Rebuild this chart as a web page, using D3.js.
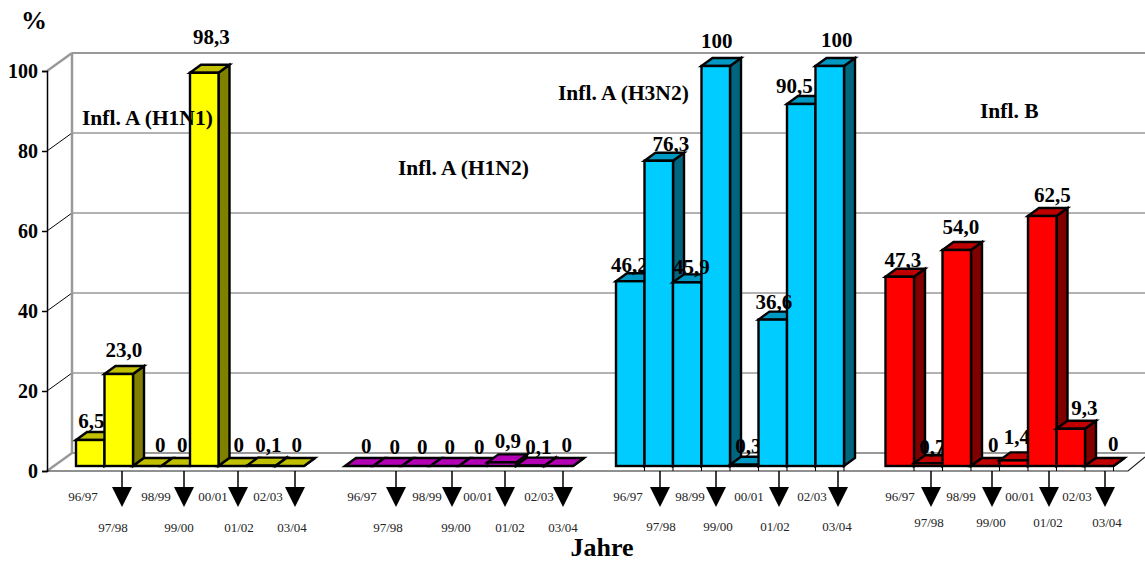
<!DOCTYPE html>
<html>
<head>
<meta charset="utf-8">
<script src="https://cdn.jsdelivr.net/npm/d3@7"></script>
<style>
    html, body { margin: 0; padding: 0; background: #fff; overflow: hidden; }
    text { font-family: "Liberation Serif", serif; }
</style>
</head>
<body>
<div class="vis"></div>
<script>
const seasons = ['96/97', '97/98', '98/99', '99/00', '00/01', '01/02', '02/03', '03/04'];
const yTicks = [0, 20, 40, 60, 80, 100];

// values as printed above the bars
const h1n1 = [6.5, 23.0, 0, 0, 98.3, 0, 0.1, 0];
const h1n2 = [0, 0, 0, 0, 0, 0.9, 0.1, 0];
const h3n2 = [46.2, 76.3, 45.9, 100, 0.3, 36.6, 90.5, 100];
const inflB = [47.3, 0.7, 54.0, 0, 1.4, 62.5, 9.3, 0];

const h1n1Labels = ['6,5', '23,0', '0', '0', '98,3', '0', '0,1', '0'];
const h1n2Labels = ['0', '0', '0', '0', '0', '0,9', '0,1', '0'];
const h3n2Labels = ['46,2', '76,3', '45,9', '100', '0,3', '36,6', '90,5', '100'];
const inflBLabels = ['47,3', '0,7', '54,0', '0', '1,4', '62,5', '9,3', '0'];

const width = 1145, height = 562;
const depth = { x: 11, y: 8 };

let svg = d3.select('.vis')
    .append('svg')
    .attr('width', width)
    .attr('height', height)
    .style('display', 'block');

// front of the axis, back wall and bars each sit at a different depth
const yFront = d3.scaleLinear().domain([0, 100]).range([471, 71]);
const yBack = d3.scaleLinear().domain([0, 100]).range([453, 53]);
const yBar = d3.scaleLinear().domain([0, 100]).range([466, 66]);

// back wall
svg.append('g')
    .selectAll('line')
    .data(yTicks)
    .join('line')
    .attr('x1', 72)
    .attr('x2', width)
    .attr('y1', d => yBack(d))
    .attr('y2', d => yBack(d))
    .attr('stroke', d => (d === 0 || d === 100) ? '#999' : '#666')
    .attr('stroke-width', d => (d === 0 || d === 100) ? 2 : 1);

svg.append('g')
    .selectAll('line')
    .data(yTicks)
    .join('line')
    .attr('x1', 47)
    .attr('x2', 72)
    .attr('y1', d => yFront(d))
    .attr('y2', d => yBack(d))
    .attr('stroke', d => (d === 0 || d === 100) ? '#999' : '#000')
    .attr('stroke-width', d => (d === 0 || d === 100) ? 2.5 : 1);

svg.append('line')
    .attr('x1', 72).attr('x2', 72)
    .attr('y1', yBack(100)).attr('y2', yBack(0))
    .attr('stroke', '#999')
    .attr('stroke-width', 2.5);

// floor front edge
svg.append('path')
    .attr('d', d3.line()([[47, yFront(0)], [1128, yFront(0)], [width, 457]]))
    .attr('fill', 'none')
    .attr('stroke', '#222')
    .attr('stroke-width', 1.2);

let yAxis = svg.append('g')
    .attr('transform', 'translate(47,0)')
    .call(d3.axisLeft(yFront).tickValues(yTicks).tickSize(5).tickPadding(4));
yAxis.select('.domain').attr('stroke', '#000').attr('stroke-width', 1.5);
yAxis.selectAll('line').attr('stroke', '#000').attr('stroke-width', 1.5);
yAxis.selectAll('text')
    .style('font-family', '"Liberation Serif", serif')
    .style('font-size', '20px')
    .style('font-weight', 'bold')
    .attr('fill', '#000');

svg.append('text').attr('x', 34).attr('y', 29)
    .attr('text-anchor', 'middle')
    .style('font-size', '26px').style('font-weight', 'bold')
    .text('%');

svg.append('text').attr('x', 602).attr('y', 556)
    .attr('text-anchor', 'middle')
    .style('font-size', '26px').style('font-weight', 'bold')
    .text('Jahre');

const groups = [
    {
        values: h1n1, labels: h1n1Labels, start: 76,
        front: '#ffff00', top: '#c0c000', side: '#808000',
        nudge: [[-3, 2], [1, -3], [9, 0], [2.5, 0], [3, -15], [2, 0], [3, 0], [3, 0]],
        arrows: [122, 184, 238, 295],
        upper: [83, 156, 213, 268], lower: [113, 179, 239, 292], lowerY: 528,
        ticks: false
    },
    {
        values: h1n2, labels: h1n2Labels, start: 345,
        front: '#c000c0', top: '#b400b4', side: '#800080',
        nudge: [[3, 1], [3, 2], [2, 2], [1, 2], [2, 2], [2, 0], [4, 2], [4, 0]],
        arrows: [396, 452, 505, 563],
        upper: [362, 427, 478, 539], lower: [388, 456, 510, 563], lowerY: 528,
        ticks: false
    },
    {
        values: h3n2, labels: h3n2Labels, start: 616,
        front: '#00ccff', top: '#0099c4', side: '#006680',
        nudge: [[-5, 5], [8, 4], [0, 6], [-3, -4], [0, 2], [-3, 3], [-11, 3], [3, -5]],
        arrows: [660, 716, 779, 838],
        upper: [628, 690, 749, 812], lower: [661, 718, 775, 837], lowerY: 527,
        ticks: true
    },
    {
        values: inflB, labels: inflBLabels, start: 885.5,
        front: '#ff0000', top: '#c00000', side: '#800000',
        nudge: [[-1, 4], [0, 5], [0, -2], [4, 0], [-1, -2], [6, 0], [9.5, 0], [10, -1]],
        arrows: [931, 992, 1049, 1105],
        upper: [900, 961, 1020, 1077], lower: [929, 991, 1048, 1107], lowerY: 523,
        ticks: true
    }
];

const barWidth = 28.5;

groups.forEach(function (g) {
    const x = d3.scaleBand()
        .domain(seasons)
        .range([g.start, g.start + barWidth * seasons.length]);

    const rows = seasons.map((s, i) => ({ season: s, value: g.values[i], label: g.labels[i], nudge: g.nudge[i] }));

    // ticks on the floor edge below the bars
    if (g.ticks) {
        svg.append('g')
            .selectAll('line')
            .data(seasons.slice(1).concat(['end']))
            .join('line')
            .attr('x1', d => d === 'end' ? x.range()[1] : x(d))
            .attr('x2', d => d === 'end' ? x.range()[1] : x(d))
            .attr('y1', yBar(0))
            .attr('y2', yFront(0))
            .attr('stroke', '#000');
    }

    // one group per bar, so a later bar covers the label of the one before
    let barLayer = svg.append('g');
    let bars = barLayer
        .selectAll('g')
        .data(rows)
        .join('g')
        .attr('stroke', '#000')
        .attr('stroke-width', 2.4)
        .attr('stroke-linejoin', 'miter');

    bars.append('path')
        .attr('fill', g.side)
        .attr('d', function (d) {
            const r = x(d.season) + barWidth, t = yBar(d.value), b = yBar(0);
            return d3.line()([[r, t], [r + depth.x, t - depth.y], [r + depth.x, b - depth.y], [r, b]]) + 'Z';
        });

    bars.append('path')
        .attr('fill', g.top)
        .attr('d', function (d) {
            const l = x(d.season), r = l + barWidth, t = yBar(d.value);
            return d3.line()([[l, t], [l + depth.x, t - depth.y], [r + depth.x, t - depth.y], [r, t]]) + 'Z';
        });

    bars.append('rect')
        .attr('fill', g.front)
        .attr('x', d => x(d.season))
        .attr('y', d => yBar(d.value))
        .attr('width', barWidth)
        .attr('height', d => yBar(0) - yBar(d.value));

    bars.append('text')
        .attr('x', d => x(d.season) + barWidth / 2 + 4 + d.nudge[0])
        .attr('y', d => yBar(d.value) - 14 + d.nudge[1])
        .attr('text-anchor', 'middle')
        .attr('stroke', 'none')
        .attr('fill', '#000')
        .style('font-size', '21px')
        .style('font-weight', 'bold')
        .text(d => d.label);

    // these two labels stay in front of the neighbouring bar
    bars.filter(d => d.label === '45,9' || d.label === '36,6').select('text').each(function () {
        barLayer.node().appendChild(this);
    });

    // every second season hangs under an arrow
    let arrows = svg.append('g')
        .selectAll('g')
        .data(g.arrows)
        .join('g')
        .attr('transform', d => 'translate(' + d + ',0)');

    arrows.append('line')
        .attr('y1', yFront(0)).attr('y2', 490)
        .attr('stroke', '#000').attr('stroke-width', 1.5);

    arrows.append('path')
        .attr('d', d3.line()([[-10, 487], [10, 487], [0, 507]]) + 'Z')
        .attr('fill', '#000');

    // group opacity keeps the small labels in plain grey antialiasing
    svg.append('g')
        .style('opacity', 0.99)
        .selectAll('text')
        .data(seasons)
        .join('text')
        .attr('x', (d, i) => i % 2 === 0 ? g.upper[i / 2] : g.lower[(i - 1) / 2])
        .attr('y', (d, i) => i % 2 === 0 ? 501 : g.lowerY + 4)
        .attr('text-anchor', 'middle')
        .attr('fill', '#222')
        .style('font-size', '13px')
        .text(d => d);
});

// series names sit on top of the bars
const seriesNames = ['Infl. A (H1N1)', 'Infl. A (H1N2)', 'Infl. A (H3N2)', 'Infl. B'];
const seriesNameAt = [[82, 125], [398, 175], [558, 100], [980, 118]];

svg.append('g')
    .selectAll('text')
    .data(seriesNames)
    .join('text')
    .attr('x', (d, i) => seriesNameAt[i][0])
    .attr('y', (d, i) => seriesNameAt[i][1])
    .attr('fill', '#000')
    .style('font-size', '21.5px')
    .style('font-weight', 'bold')
    .text(d => d);
</script>
</body>
</html>
